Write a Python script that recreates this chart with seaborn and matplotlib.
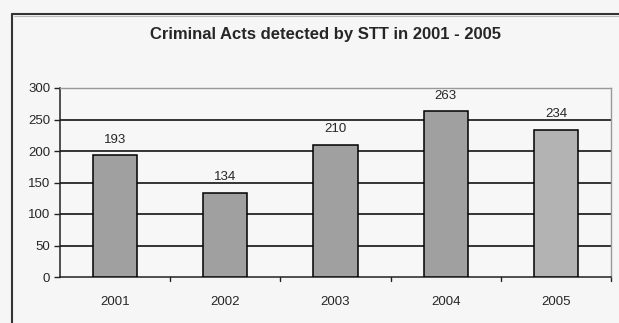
import matplotlib
matplotlib.use("Agg")
import matplotlib.pyplot as plt
from matplotlib.lines import Line2D
import seaborn as sns
import pandas as pd

years = ["2001", "2002", "2003", "2004", "2005"]
acts = [193, 134, 210, 263, 234]
bar_colors = ["#a0a0a0", "#a0a0a0", "#a0a0a0", "#a0a0a0", "#b3b3b3"]
y_ticks = [0, 50, 100, 150, 200, 250, 300]
title = "Criminal Acts detected by STT in 2001 - 2005"

sns.set_style("white")
FONT = ["Liberation Sans Narrow", "Liberation Sans", "DejaVu Sans"]
plt.rcParams["font.family"] = FONT

df = pd.DataFrame({"year": years, "acts": acts})

W, H = 619, 323
fig = plt.figure(figsize=(W / 100, H / 100), dpi=100)
fig.patch.set_facecolor("#f6f6f6")

# chart frame: dark line with a light inner edge
fig.add_artist(Line2D([12 / W, 1], [1 - 14 / H, 1 - 14 / H], color="#333333", lw=1.5))
fig.add_artist(Line2D([12 / W, 12 / W], [0, 1 - 14 / H], color="#333333", lw=1.5))
fig.add_artist(Line2D([13.5 / W, 1], [1 - 15.5 / H, 1 - 15.5 / H], color="#bbbbbb", lw=0.8))

left, right, top, bottom = 60, 611, 88, 277
ax = fig.add_axes([left / W, 1 - bottom / H, (right - left) / W, (bottom - top) / H])
ax.set_facecolor("#f7f7f7")

sns.barplot(data=df, x="year", y="acts", hue="year", palette=bar_colors,
            legend=False, width=0.4, edgecolor="black", linewidth=1.1,
            saturation=1, ax=ax, zorder=3)

ax.set_ylim(0, 300)
ax.set_xlim(-0.5, len(years) - 0.5)
ax.set_yticks(y_ticks)
ax.set_yticklabels([str(v) for v in y_ticks], fontsize=9.5)
ax.set_xticks(range(len(years)))
ax.set_xticklabels(years, fontsize=9.5)
ax.tick_params(axis="x", length=0, pad=14)
ax.tick_params(axis="y", length=4, width=1, color="#222222", pad=3, direction="out", left=True)

for v in y_ticks[1:-1]:
    ax.axhline(v, color="black", lw=1.1, zorder=1)

# category separators on the x axis
for b in [i + 0.5 for i in range(len(years))]:
    ax.plot([b, b], [0, -0.02], transform=ax.get_xaxis_transform(),
            color="#222222", lw=1, clip_on=False)

for s in ["left", "bottom"]:
    ax.spines[s].set_color("#222222")
    ax.spines[s].set_linewidth(1.1)
for s in ["top", "right"]:
    ax.spines[s].set_color("#999999")
    ax.spines[s].set_linewidth(1)
ax.set_xlabel("")
ax.set_ylabel("")

for i, v in enumerate(acts):
    ax.annotate(str(v), (i, v), xytext=(0, 7), textcoords="offset points",
                ha="center", va="bottom", fontsize=9.5)

fig.text(325 / W, 1 - 35 / H, title, ha="center", va="center",
         fontsize=12, fontweight="bold")

fig.savefig("out.png", dpi=100, facecolor=fig.get_facecolor())
